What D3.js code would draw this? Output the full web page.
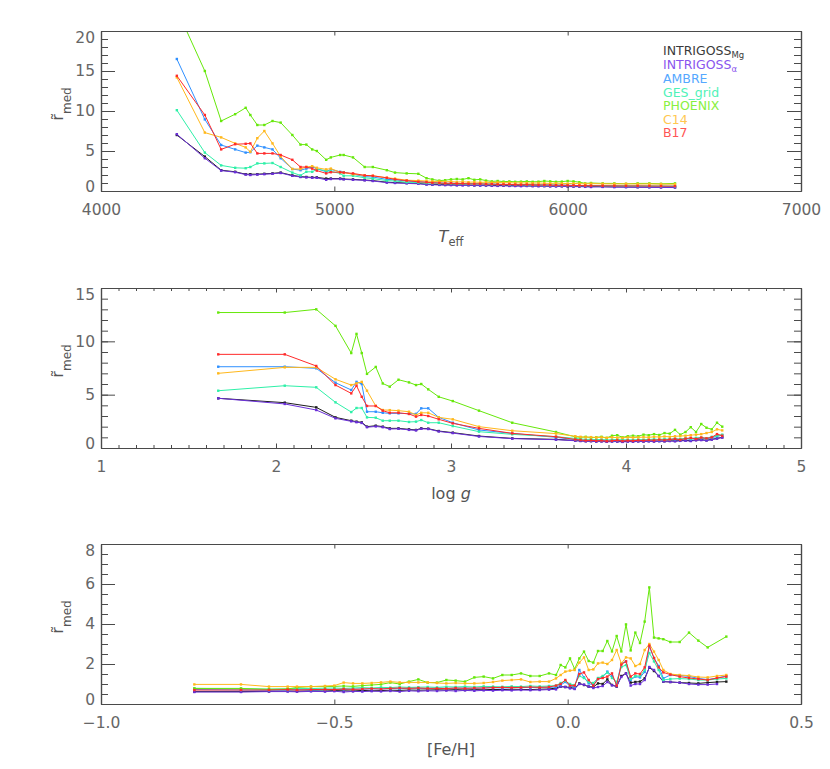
<!DOCTYPE html>
<html><head><meta charset="utf-8">
<script src="https://cdn.jsdelivr.net/npm/d3@7"></script>
<style>body{margin:0;background:#fff}</style>
</head><body>
<svg id="c" width="830" height="769" xmlns="http://www.w3.org/2000/svg"></svg>
<script>
// ---------------- DATA ----------------
const seriesNames = ["INTRIGOSS","INTRIGOSS","AMBRE","GES_grid","PHOENIX","C14","B17"];
const seriesSubs  = ["Mg","α","","","","",""];

// Panel 1: Teff
const teff = [4325,4445,4515,4575,4620,4640,4670,4700,4735,4770,4820,4855,4880,4905,4925,4965,4985,5025,5040,5080,5130,5165,5225,5260,5310,5360,5395,5420,
  5450,5475,5500,5525,5550,5575,5600,5625,5650,5675,5700,5725,5750,5775,5800,5825,5850,5875,5900,5925,5950,5975,6000,6025,6050,6075,6100,6150,6200,6250,6300,6350,6400,6460];
const teffMg = [7.0,4.3,2.6,2.4,2.1,2.1,2.1,2.15,2.2,2.3,1.95,1.8,1.75,1.7,1.7,1.55,1.55,1.55,1.5,1.45,1.37,1.3,1.1,1.05,1.0,0.95,0.85,0.82,
  0.8,0.78,0.77,0.75,0.76,0.74,0.72,0.73,0.7,0.7,0.68,0.69,0.67,0.66,0.67,0.65,0.64,0.65,0.63,0.62,0.63,0.61,0.6,0.6,0.58,0.57,0.58,0.55,0.53,0.52,0.5,0.5,0.48,0.47];
const teffAlpha = [7.1,4.1,2.55,2.35,2.05,2.0,2.05,2.1,2.15,2.25,1.9,1.75,1.7,1.65,1.65,1.4,1.5,1.5,1.45,1.4,1.33,1.25,1.05,1.0,0.95,0.9,0.8,0.78,
  0.76,0.73,0.74,0.71,0.7,0.72,0.68,0.67,0.68,0.65,0.64,0.66,0.63,0.62,0.6,0.62,0.6,0.58,0.6,0.57,0.56,0.58,0.55,0.54,0.55,0.52,0.5,0.51,0.48,0.47,0.46,0.45,0.44,0.43];
const teffAmbre = [16.5,8.95,5.75,5.2,4.8,4.85,5.67,5.45,5.2,4.1,2.75,2.6,2.8,3.0,2.8,2.4,2.7,2.4,2.35,2.1,1.8,1.75,1.45,1.4,1.25,1.15,1.1,1.05,
  1.0,0.98,0.95,0.97,0.92,0.9,0.92,0.88,0.85,0.87,0.83,0.82,0.8,0.82,0.78,0.77,0.78,0.75,0.73,0.75,0.72,0.7,0.72,0.68,0.67,0.65,0.66,0.63,0.62,0.6,0.6,0.58,0.57,0.56];
const teffGes = [10.1,4.8,3.2,2.9,2.85,3.0,3.45,3.45,3.5,3.0,2.3,1.95,2.4,2.4,2.7,2.55,2.45,2.2,1.9,1.9,1.65,1.55,1.3,1.25,1.1,1.05,1.0,0.98,
  0.95,0.93,0.94,0.9,0.9,0.88,0.87,0.88,0.85,0.83,0.84,0.8,0.8,0.78,0.8,0.76,0.75,0.77,0.74,0.73,0.72,0.73,0.7,0.7,0.68,0.67,0.68,0.66,0.65,0.64,0.63,0.63,0.62,0.62];
const teffPhoenix = [22.7,15.0,8.75,9.6,10.4,9.5,8.25,8.25,8.75,8.55,7.0,5.8,5.8,5.2,5.0,3.9,4.2,4.5,4.5,4.2,3.0,3.0,2.6,2.3,2.2,2.15,1.6,1.45,
  1.3,1.35,1.45,1.5,1.45,1.6,1.4,1.45,1.3,1.2,1.25,1.17,1.2,1.15,1.17,1.2,1.15,1.17,1.25,1.2,1.15,1.17,1.25,1.2,1.1,0.95,1.0,0.95,0.95,0.9,0.95,0.95,0.9,0.95];
const teffC14 = [14.2,7.3,6.7,5.95,5.45,4.9,6.6,7.5,5.95,4.3,2.75,2.75,3.0,3.1,2.9,2.7,2.8,2.35,2.3,2.1,1.95,1.9,1.65,1.55,1.35,1.3,1.25,1.2,
  1.2,1.15,1.18,1.12,1.15,1.1,1.12,1.08,1.1,1.05,1.07,1.03,1.05,1.0,1.02,1.0,0.98,1.0,0.97,0.95,0.97,0.95,0.93,0.95,0.92,0.9,0.92,0.9,0.88,0.9,0.87,0.88,0.86,0.85];
const teffB17 = [14.4,9.5,5.2,5.85,5.9,5.95,4.7,4.7,4.7,4.5,3.9,3.0,3.0,2.8,2.55,2.2,2.35,2.35,2.3,2.2,1.95,1.9,1.65,1.45,1.3,1.15,1.1,1.02,
  1.0,0.95,0.97,0.92,0.93,0.9,0.88,0.9,0.85,0.86,0.83,0.82,0.83,0.8,0.78,0.8,0.77,0.75,0.76,0.74,0.72,0.73,0.7,0.7,0.68,0.67,0.66,0.65,0.64,0.63,0.63,0.62,0.61,0.6];

// Panel 2: log g
const logg = [1.67,2.05,2.23,2.34,2.43,2.46,2.49,2.52,2.57,2.61,2.65,2.70,2.76,2.80,2.83,2.87,2.93,3.01,3.16,3.35,3.60,3.71,
  3.74,3.77,3.80,3.83,3.86,3.89,3.92,3.95,3.98,4.01,4.04,4.07,4.10,4.13,4.16,4.19,4.22,4.25,4.28,4.31,4.34,4.37,4.40,4.43,4.46,4.49,4.52,4.55];
const loggMg = [4.66,4.25,3.81,2.87,2.56,2.47,2.4,2.0,2.09,2.0,1.84,1.84,1.75,1.69,1.84,1.81,1.59,1.44,1.12,0.9,0.81,0.7,
  0.68,0.65,0.66,0.62,0.64,0.6,0.63,0.62,0.6,0.63,0.61,0.64,0.62,0.65,0.63,0.66,0.64,0.68,0.66,0.7,0.72,0.68,0.75,0.78,0.72,0.82,0.9,1.0];
const loggAlpha = [4.66,4.13,3.56,2.78,2.5,2.42,2.35,1.95,2.02,1.95,1.78,1.8,1.7,1.65,1.8,1.78,1.55,1.4,1.08,0.88,0.78,0.68,
  0.65,0.62,0.63,0.6,0.61,0.58,0.6,0.6,0.57,0.6,0.59,0.61,0.6,0.62,0.6,0.63,0.62,0.65,0.63,0.67,0.68,0.65,0.72,0.74,0.7,0.78,0.88,0.98];
const loggAmbre = [7.62,7.62,7.47,6.12,5.44,6.2,6.0,3.4,3.4,3.3,3.25,3.25,3.22,3.2,3.72,3.72,2.87,2.37,1.69,1.37,1.0,0.78,
  0.75,0.72,0.7,0.7,0.68,0.7,0.66,0.7,0.68,0.72,0.7,0.7,0.73,0.72,0.75,0.73,0.76,0.78,0.8,0.78,0.85,0.82,0.88,0.92,0.85,0.95,1.1,1.2];
const loggGes = [5.37,5.84,5.69,4.28,3.37,3.75,3.75,2.87,2.84,2.56,2.56,2.56,2.44,2.47,2.62,2.37,2.37,2.06,1.53,1.28,1.06,0.9,
  0.85,0.8,0.82,0.78,0.8,0.75,0.78,0.8,0.76,0.78,0.75,0.8,0.78,0.8,0.82,0.8,0.84,0.82,0.88,0.85,0.9,0.88,0.95,0.98,0.92,1.05,1.15,1.25];
const loggPhoenix = [12.7,12.7,13.0,11.45,8.9,10.7,8.9,6.95,7.6,6.05,5.75,6.4,6.15,5.9,6.0,5.5,4.8,4.4,3.5,2.37,1.5,1.05,
  1.0,1.05,0.98,1.0,1.05,0.95,1.15,1.2,1.0,1.1,1.15,1.1,1.25,1.2,1.3,1.22,1.4,1.35,1.7,1.25,1.5,1.95,1.5,2.25,1.9,1.75,2.37,2.0];
const loggC14 = [7.0,7.56,7.56,6.44,5.9,6.06,6.2,5.37,3.94,3.56,3.55,3.5,3.4,3.1,3.3,3.3,2.87,2.69,2.0,1.62,1.35,1.1,
  1.05,1.0,1.02,0.98,1.0,0.95,1.0,0.97,0.95,1.0,0.98,1.0,1.02,1.0,1.05,1.03,1.08,1.05,1.1,1.12,1.15,1.2,1.25,1.3,1.4,1.5,1.75,1.65];
const loggB17 = [8.78,8.78,7.69,5.9,5.12,5.84,4.8,3.94,3.94,3.5,3.3,3.3,3.19,2.94,3.1,3.0,2.69,2.31,1.84,1.37,1.06,0.8,
  0.75,0.7,0.72,0.68,0.7,0.65,0.68,0.72,0.66,0.7,0.68,0.72,0.7,0.75,0.72,0.78,0.74,0.8,0.85,0.78,0.88,0.95,0.85,0.98,0.9,1.0,1.3,1.15];

// Panel 3: [Fe/H]
const feh = [-0.80,-0.70,-0.64,-0.60,-0.58,-0.55,-0.52,-0.50,-0.48,-0.46,-0.44,-0.42,-0.40,-0.38,-0.36,-0.34,-0.32,-0.30,-0.28,-0.26,-0.24,-0.22,-0.20,-0.18,-0.16,-0.14,-0.12,-0.10,-0.08,-0.06,-0.04,
  -0.025,-0.015,-0.005,0.005,0.015,0.025,0.035,0.045,0.055,0.065,0.075,0.085,0.095,0.105,0.115,0.125,0.135,0.145,0.155,0.165,0.175,0.185,0.195,0.205,
  0.22,0.24,0.26,0.28,0.30,0.32,0.34];
const fehMg = [0.62,0.62,0.63,0.65,0.64,0.66,0.65,0.67,0.66,0.65,0.68,0.66,0.67,0.69,0.68,0.7,0.69,0.7,0.71,0.7,0.72,0.7,0.72,0.71,0.73,0.72,0.74,0.73,0.72,0.74,0.75,
  0.8,0.87,0.85,0.83,0.78,1.03,0.95,0.87,0.85,1.03,1.0,1.23,0.95,0.87,1.4,1.53,1.07,1.1,1.12,1.28,1.82,1.65,1.4,1.12,
  1.1,1.07,1.05,1.03,1.07,1.1,1.12];
const fehAlpha = [0.6,0.6,0.62,0.62,0.61,0.63,0.62,0.64,0.6,0.63,0.62,0.64,0.63,0.65,0.62,0.66,0.64,0.66,0.65,0.67,0.65,0.68,0.66,0.68,0.67,0.69,0.68,0.7,0.69,0.7,0.72,
  0.73,0.87,0.85,0.78,0.75,1.0,0.97,0.87,0.8,0.85,0.9,1.1,0.93,0.88,1.35,1.53,0.92,1.0,1.0,1.2,1.85,1.7,1.4,1.12,
  1.1,1.07,1.0,0.97,0.97,1.0,null];
const fehAmbre = [0.72,0.7,0.68,0.7,0.72,0.7,0.72,0.74,0.72,0.75,0.74,0.76,0.75,0.78,0.76,0.8,0.78,0.78,0.8,0.78,0.79,0.8,0.78,0.8,0.82,0.8,0.82,0.83,0.82,0.84,0.83,
  0.85,0.95,1.1,0.9,0.85,1.7,1.33,1.03,0.95,1.25,1.35,1.62,1.4,1.0,2.03,2.13,1.2,1.37,1.33,1.6,2.87,2.3,1.9,1.28,
  1.45,1.43,1.38,1.28,1.22,1.3,1.4];
const fehGes = [0.78,0.76,0.75,0.76,0.78,0.77,0.79,0.8,0.78,0.8,0.82,0.8,0.83,0.82,0.85,0.83,0.84,0.85,0.83,0.86,0.85,0.87,0.85,0.88,0.87,0.86,0.88,0.87,0.9,0.88,0.9,
  0.92,1.05,1.15,1.0,0.95,1.4,1.3,1.1,1.05,1.3,1.4,1.57,1.3,1.1,1.85,1.95,1.25,1.4,1.4,1.7,2.55,2.13,1.7,1.2,
  1.25,1.27,1.25,1.2,1.2,1.25,1.28];
const fehPhoenix = [0.78,0.78,0.73,0.75,0.83,0.87,0.87,0.88,0.9,0.88,0.92,0.95,0.98,1.07,1.0,1.12,1.23,1.07,1.07,1.2,1.17,1.12,1.33,1.37,1.28,1.45,1.45,1.53,1.4,1.4,1.53,
  1.45,1.95,1.83,2.28,1.75,2.28,2.62,2.15,2.07,2.65,2.65,3.15,2.63,3.4,2.63,3.98,2.68,3.57,3.05,4.12,5.83,3.32,3.28,3.24,
  3.1,3.1,3.57,3.17,2.83,null,3.37];
const fehC14 = [0.98,0.98,0.87,0.87,0.87,0.87,0.9,0.92,1.07,1.03,1.03,1.05,1.08,1.12,1.08,1.08,1.08,1.08,1.05,1.03,1.05,1.03,1.03,1.05,1.1,1.17,1.2,1.23,1.1,1.12,1.12,
  1.28,1.45,1.62,1.67,1.7,2.07,2.33,1.7,1.73,2.03,2.07,2.0,2.2,2.7,2.03,2.33,2.28,1.9,2.0,2.7,3.0,2.62,2.2,1.7,
  1.5,1.45,1.42,1.35,1.33,1.4,1.45];
const fehB17 = [0.7,0.7,0.7,0.72,0.7,0.72,0.73,0.72,0.75,0.73,0.75,0.77,0.75,0.78,0.8,0.78,0.8,0.78,0.78,0.77,0.8,0.78,0.8,0.8,0.82,0.83,0.82,0.83,0.85,0.83,0.85,
  0.92,1.0,1.2,0.92,0.92,1.5,1.58,1.2,0.92,1.25,1.3,1.37,1.53,0.92,1.97,2.13,1.37,1.53,1.5,1.83,2.92,2.3,1.83,1.58,
  1.47,1.37,1.3,1.25,1.2,1.3,1.37];

// Tick values / labels
const teffTicks = [4000,5000,6000,7000];
const teffTickLabels = ["4000","5000","6000","7000"];
const loggTicks = [1,2,3,4,5];
const loggTickLabels = ["1","2","3","4","5"];
const fehTicks = [-1.0,-0.5,0.0,0.5];
const fehTickLabels = ["\u22121.0","\u22120.5","0.0","0.5"];
const topYTicks = [0,5,10,15,20];
const midYTicks = [0,5,10,15];
const botYTicks = [0,2,4,6,8];

// ---------------- STYLE ----------------
const lineColors   = ["#1c1c1c","#6a2fd8","#2f90ff","#2ef0a8","#66e80a","#ffb81c","#ff2a2a"];
const legendColors = ["#3a3a3a","#8a55ee","#55a8ff","#50f2b8","#88f040","#ffc850","#ff5555"];
const FONT = "DejaVu Sans, Liberation Sans, sans-serif";
const AXIS_COLOR = "#4a4a4a";
const LABEL_COLOR = "#666";
const L = 101, R = 801, H = 160;

const svg = d3.select("#c");

const panels = [
  {top:31, x:teff, ys:[teffMg,teffAlpha,teffAmbre,teffGes,teffPhoenix,teffC14,teffB17],
   xDomain:[4000,7000], yDomain:[0,20], xTicks:teffTicks, xLabels:teffTickLabels, xMinor:[],
   yTicks:topYTicks, yMinor:d3.range(0,20.01,1), title:"teff", legend:true},
  {top:288, x:logg, ys:[loggMg,loggAlpha,loggAmbre,loggGes,loggPhoenix,loggC14,loggB17],
   xDomain:[1,5], yDomain:[0,15], xTicks:loggTicks, xLabels:loggTickLabels, xMinor:d3.range(1,5.001,0.1),
   yTicks:midYTicks, yMinor:d3.range(0,15.01,1), title:"logg"},
  {top:544, x:feh, ys:[fehMg,fehAlpha,fehAmbre,fehGes,fehPhoenix,fehC14,fehB17],
   xDomain:[-1.0,0.5], yDomain:[0,8], xTicks:fehTicks, xLabels:fehTickLabels, xMinor:[],
   yTicks:botYTicks, yMinor:d3.range(0,8.01,0.5), title:"feh"}
];

panels.forEach((p, pi) => {
  const x = d3.scaleLinear().domain(p.xDomain).range([L, R]);
  const y = d3.scaleLinear().domain(p.yDomain).range([p.top + H, p.top]);
  const g = svg.append("g");

  const clipId = "clip" + pi;
  svg.append("clipPath").attr("id", clipId).append("rect")
    .attr("x", L).attr("y", p.top).attr("width", R - L).attr("height", H);

  // data
  const dg = g.append("g").attr("clip-path", `url(#${clipId})`);
  const line = d3.line().x(d => x(d[0])).y(d => y(d[1]));
  p.ys.forEach((vals, si) => {
    const pts = p.x.map((xv, i) => [xv, vals[i]]).filter(d => d[1] != null);
    dg.append("path").attr("d", line(pts)).attr("fill", "none")
      .attr("stroke", lineColors[si]).attr("stroke-width", 1).attr("stroke-linejoin", "round");
    dg.selectAll(null).data(pts).enter().append("rect")
      .attr("x", d => x(d[0]) - 1.2).attr("y", d => y(d[1]) - 1.2)
      .attr("width", 2.4).attr("height", 2.4).attr("fill", lineColors[si]);
  });

  const style = sel => {
    sel.attr("color", AXIS_COLOR).attr("font-family", FONT).attr("font-size", 15.5);
    sel.selectAll("text").attr("fill", LABEL_COLOR);
    sel.selectAll("line").attr("stroke-width", 1);
    sel.select(".domain").attr("stroke-width", 1.2);
  };

  // bottom
  g.append("g").attr("transform", `translate(0,${p.top + H})`)
    .call(d3.axisBottom(x).tickValues(p.xMinor).tickSize(-3).tickSizeOuter(0).tickFormat(""))
    .call(style);
  g.append("g").attr("transform", `translate(0,${p.top + H})`)
    .call(d3.axisBottom(x).tickValues(p.xTicks).tickSize(-4.5).tickSizeOuter(0).tickPadding(13)
      .tickFormat((d, i) => p.xLabels[i]))
    .call(style);
  // top
  g.append("g").attr("transform", `translate(0,${p.top})`)
    .call(d3.axisTop(x).tickValues(p.xMinor).tickSize(-3).tickSizeOuter(0).tickFormat(""))
    .call(style);
  g.append("g").attr("transform", `translate(0,${p.top})`)
    .call(d3.axisTop(x).tickValues(p.xTicks).tickSize(-4.5).tickSizeOuter(0).tickFormat(""))
    .call(style);
  // left
  g.append("g").attr("transform", `translate(${L},0)`)
    .call(d3.axisLeft(y).tickValues(p.yMinor).tickSize(-7).tickSizeOuter(0).tickFormat(""))
    .call(style);
  const ly = g.append("g").attr("transform", `translate(${L},0)`)
    .call(d3.axisLeft(y).tickValues(p.yTicks).tickSize(-14).tickSizeOuter(0).tickPadding(6)
      .tickFormat(d3.format("d")))
    .call(style);
  const lt = ly.selectAll(".tick text");
  const n = lt.size();
  lt.each(function(d, i) {
    if (i === 0) d3.select(this).attr("dy", "0em");
    else if (i === n - 1) d3.select(this).attr("dy", "0.72em");
  });
  // right
  g.append("g").attr("transform", `translate(${R},0)`)
    .call(d3.axisRight(y).tickValues(p.yMinor).tickSize(-7).tickSizeOuter(0).tickFormat(""))
    .call(style);
  g.append("g").attr("transform", `translate(${R},0)`)
    .call(d3.axisRight(y).tickValues(p.yTicks).tickSize(-14).tickSizeOuter(0).tickFormat(""))
    .call(style);

  // y title
  const yt = svg.append("text")
    .attr("transform", `translate(63,${p.top + 73}) rotate(-90)`)
    .attr("text-anchor", "middle").attr("font-family", FONT).attr("font-size", 16)
    .attr("fill", "#555");
  yt.append("tspan").text("r\u0303");
  yt.append("tspan").attr("dy", 8).attr("font-size", 12).text("med");

  // x title
  const xt = svg.append("text").attr("x", (L + R) / 2).attr("y", p.top + H + 51)
    .attr("text-anchor", "middle").attr("font-family", FONT).attr("font-size", 16).attr("fill", "#555");
  if (p.title === "teff") {
    xt.append("tspan").attr("font-style", "italic").text("T");
    xt.append("tspan").attr("dy", 4).attr("font-size", 11.5).text("eff");
  } else if (p.title === "logg") {
    xt.append("tspan").text("log ");
    xt.append("tspan").attr("font-style", "italic").text("g");
  } else {
    xt.text("[Fe/H]");
  }

  // legend
  if (p.legend) {
    const baselines = [55, 69, 83, 96.5, 110, 123.5, 137];
    seriesNames.forEach((name, i) => {
      const t = svg.append("text").attr("x", 663).attr("y", baselines[i])
        .attr("font-family", FONT).attr("font-size", 12.5).attr("fill", legendColors[i]);
      t.append("tspan").text(name);
      if (seriesSubs[i]) t.append("tspan").attr("dy", 3).attr("font-size", 8.5).text(seriesSubs[i]);
    });
  }
});
</script>
</body></html>
